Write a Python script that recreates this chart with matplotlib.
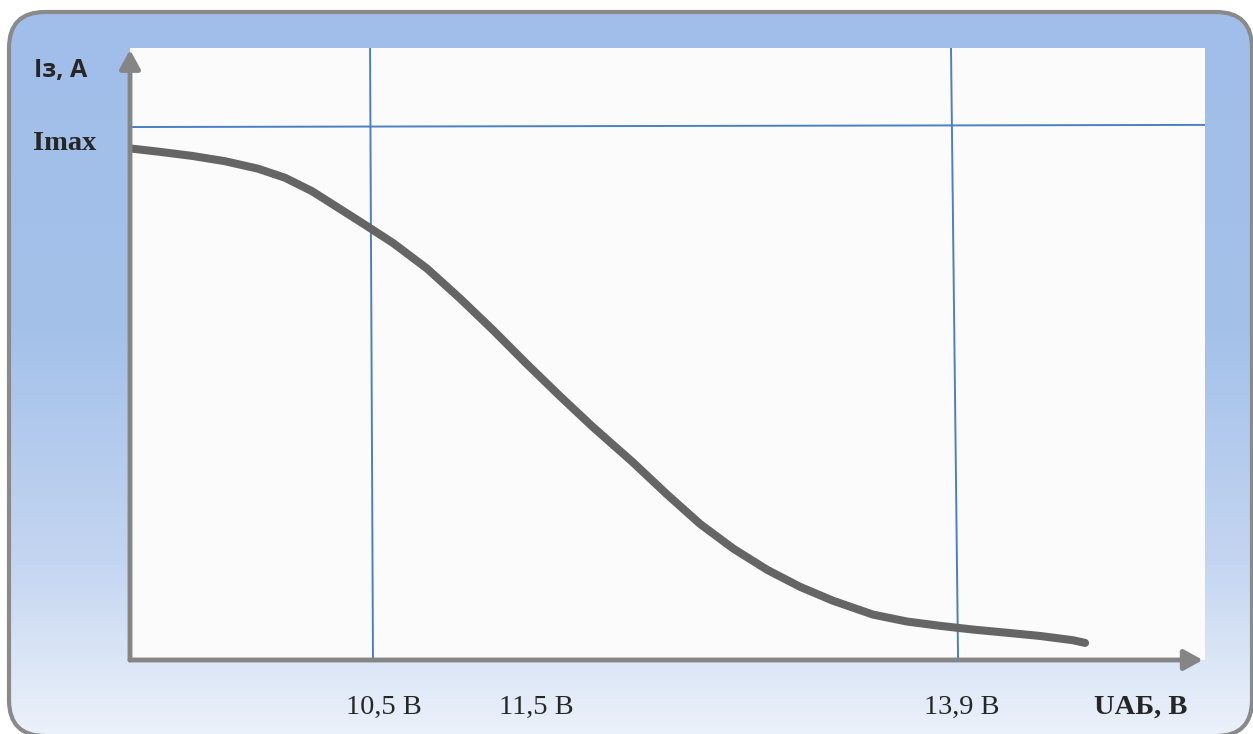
import numpy as np
import matplotlib
matplotlib.use("Agg")
import matplotlib.pyplot as plt
from matplotlib.patches import FancyBboxPatch

# ---- data (x: battery voltage, V; y: charge current as fraction of Imax) ----
curve_u = [9.088, 9.250, 9.448, 9.640, 9.832, 9.989, 10.145, 10.297, 10.453,
           10.616, 10.814, 11.006, 11.197, 11.395, 11.587, 11.779, 12.011,
           12.209, 12.400, 12.592, 12.790, 12.982, 13.173, 13.406, 13.604,
           13.795, 13.987, 14.185, 14.377, 14.568, 14.638]
curve_i = [0.958, 0.952, 0.944, 0.934, 0.920, 0.903, 0.878, 0.847, 0.815,
           0.781, 0.733, 0.677, 0.618, 0.554, 0.494, 0.436, 0.370,
           0.310, 0.255, 0.209, 0.169, 0.137, 0.111, 0.085, 0.072,
           0.064, 0.057, 0.051, 0.045, 0.037, 0.032]

vline1_u = [10.483, 10.500]   # top, bottom
vline2_u = [13.859, 13.900]
hline_i = [0.998, 1.002]      # left, right

x_labels = ["10,5 В", "11,5 В", "13,9 В"]
x_label_px = [384, 536, 962]
x_axis_title = "UАБ, В"
y_axis_title = "Iз, A"
y_tick_label = "Imax"

xlim = (9.088, 15.335)
ylim = (0.0, 1.146)

W, H = 1253, 734
fig = plt.figure(figsize=(W / 100, H / 100), dpi=100)
fig.patch.set_facecolor("white")

# ---- background frame with gradient (pixel coords, y up) ----
bg = fig.add_axes([0, 0, 1, 1])
bg.set_xlim(0, W)
bg.set_ylim(0, H)
bg.axis("off")

fx0, fx1 = 9, 1252
fyb, fyt = H - 736, H - 12   # bottom, top
def rbox(**kw):
    return FancyBboxPatch((fx0, fyb), fx1 - fx0, fyt - fyb,
                          boxstyle="round,pad=0,rounding_size=36", **kw)

stops_y = np.array([12, 330, 560, 736])
stops_c = np.array([[160, 190, 233], [164, 193, 234], [196, 213, 241], [236, 242, 251]]) / 255.0
ys = np.linspace(12, 736, 400)
grad = np.stack([np.interp(ys, stops_y, stops_c[:, k]) for k in range(3)], axis=-1)[:, None, :]
im = bg.imshow(grad, extent=[fx0, fx1, fyb, fyt], origin="upper", aspect="auto", zorder=1)
clip = rbox(facecolor="none", edgecolor="none")
bg.add_patch(clip)
im.set_clip_path(clip)
bg.add_patch(rbox(facecolor="none", edgecolor="#8a8a8a", lw=3.0, zorder=3))

# ---- plot area ----
ax_l, ax_t, ax_r, ax_b = 130, 48, 1205, 660
ax = fig.add_axes([ax_l / W, 1 - ax_b / H, (ax_r - ax_l) / W, (ax_b - ax_t) / H])
ax.set_facecolor("#fbfbfb")
ax.set_xlim(*xlim)
ax.set_ylim(*ylim)
for s in ax.spines.values():
    s.set_visible(False)
ax.set_xticks([])
ax.set_yticks([])

blue = "#4a80c4"
ax.plot([vline1_u[0], vline1_u[1]], [ylim[1], 0], color=blue, lw=1.4, zorder=2)
ax.plot([vline2_u[0], vline2_u[1]], [ylim[1], 0], color=blue, lw=1.4, zorder=2)
ax.plot([xlim[0], xlim[1]], hline_i, color=blue, lw=1.4, zorder=2)

ax.plot(curve_u, curve_i, color="#656565", lw=5.8, solid_capstyle="round",
        solid_joinstyle="round", zorder=3)

# axes with arrows
gray = "#858585"
for tip in [(0, 0.997), (0.998, 0)]:
    ax.annotate("", xy=tip, xytext=(0, 0), xycoords="axes fraction",
                arrowprops=dict(arrowstyle="-|>,head_length=0.4,head_width=0.22",
                                mutation_scale=28, lw=3.5, color=gray,
                                shrinkA=0, shrinkB=0),
                annotation_clip=False, zorder=5)

# ---- texts (pixel positions, y measured from top) ----
txt_col = "#262626"
def put(px, py, s, **kw):
    bg.text(px, H - py, s, ha="center", va="center", color=txt_col, zorder=6, **kw)

for lab, px in zip(x_labels, x_label_px):
    put(px, 707, lab, fontsize=20.5, family="Liberation Serif")
put(1141, 707, x_axis_title, fontsize=20.5, family="Liberation Serif", fontweight="bold")
put(65, 143, y_tick_label, fontsize=20.5, family="Liberation Serif", fontweight="bold")
put(61, 71, y_axis_title, fontsize=18, family="Open Sans", fontweight="bold")

fig.savefig("out.png", dpi=100)
